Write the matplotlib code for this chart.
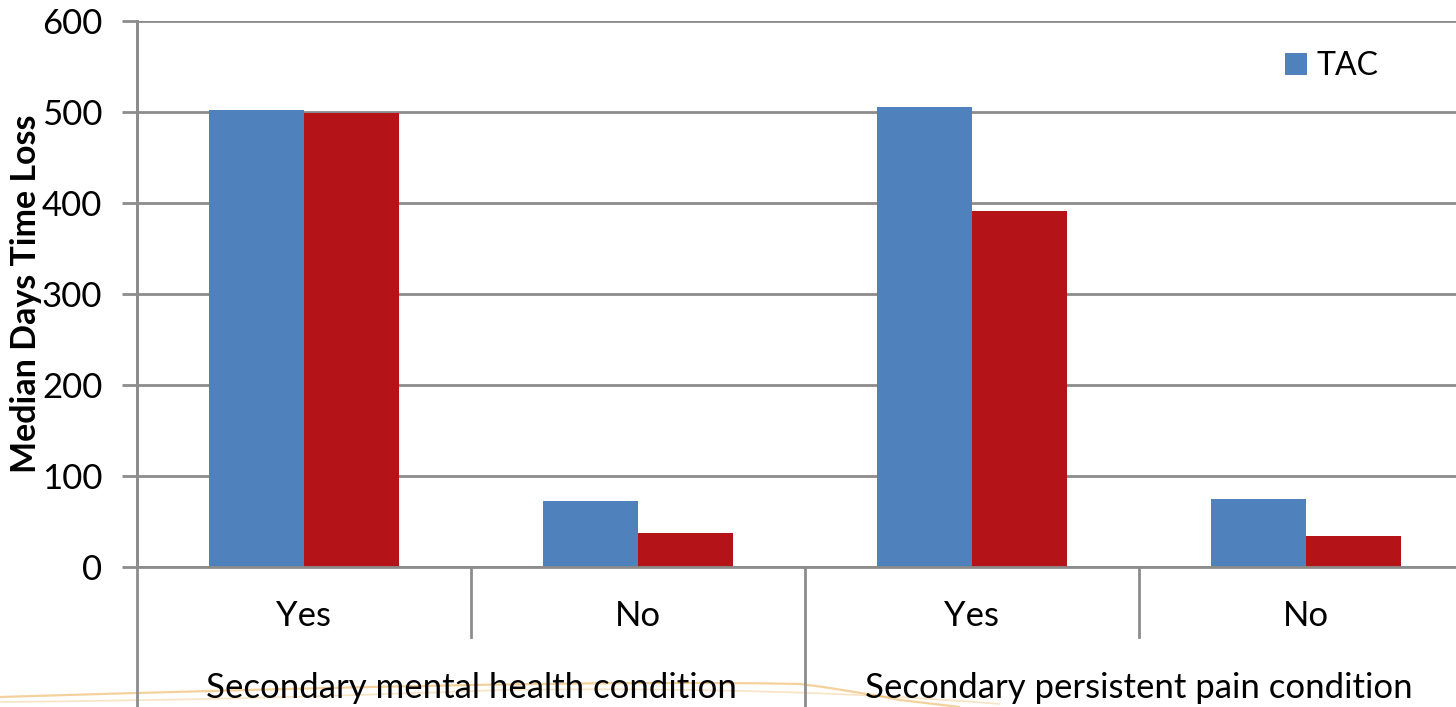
import matplotlib
matplotlib.use("Agg")
import matplotlib.pyplot as plt
from matplotlib.path import Path
from matplotlib.patches import PathPatch, Patch
from matplotlib.transforms import blended_transform_factory

plt.rcParams['font.family'] = ['Lato', 'DejaVu Sans']

# Data
sub_labels = ["Yes", "No", "Yes", "No"]
group_labels = ["Secondary mental health condition", "Secondary persistent pain condition"]
tac_values = [502, 72, 506, 75]
other_values = [499, 37, 391, 34]
series_name = "TAC"
y_ticks = [0, 100, 200, 300, 400, 500, 600]

blue = "#4F81BD"
red = "#B41318"
grid_gray = "#8C8C8C"

W, H = 1456, 707
fig = plt.figure(figsize=(W / 100, H / 100), dpi=100)
fig.patch.set_facecolor("white")

left_px, top_px, bottom_px, cat_px = 137, 21, 567, 334
ax = fig.add_axes([left_px / W, 1 - bottom_px / H,
                   4 * cat_px / W, (bottom_px - top_px) / H])

# Decorative orange swoosh behind the lower labels
def fig_pts(pts):
    return [(x / W, 1 - y / H) for x, y in pts]

swoosh1 = Path(fig_pts([(0, 697), (300, 688), (600, 680), (800, 684),
                        (850, 690), (900, 700), (960, 707)]),
               [Path.MOVETO, Path.CURVE4, Path.CURVE4, Path.CURVE4,
                Path.CURVE3, Path.CURVE3, Path.LINETO])
swoosh2 = Path(fig_pts([(0, 702), (250, 700), (500, 690), (780, 686), (1000, 704)]),
               [Path.MOVETO, Path.CURVE3, Path.CURVE3, Path.CURVE3, Path.CURVE3])
for p, lw, a in [(swoosh1, 1.6, 0.5), (swoosh2, 1.2, 0.3)]:
    fig.add_artist(PathPatch(p, transform=fig.transFigure, facecolor="none",
                             edgecolor="#E8A33A", lw=lw, alpha=a, zorder=0))

x = list(range(len(sub_labels)))
bw = 95 / cat_px
ax.bar([i - bw / 2 for i in x], tac_values, width=bw, color=blue, zorder=3)
ax.bar([i + bw / 2 for i in x], other_values, width=bw, color=red, zorder=3)

ax.set_xlim(-0.5, 3.5)
ax.set_ylim(0, 600)
ax.set_yticks(y_ticks)
ax.set_yticklabels([str(v) for v in y_ticks], fontsize=25)
ax.yaxis.grid(True, color=grid_gray, lw=2, zorder=0)
ax.set_axisbelow(True)
ax.tick_params(axis="y", length=11, width=2, color=grid_gray, pad=14)
ax.set_xticks([])

for s in ["top", "right", "bottom"]:
    ax.spines[s].set_visible(False)
ax.spines["left"].set_color(grid_gray)
ax.spines["left"].set_linewidth(2)
ax.spines["left"].set_bounds(0, 600)

ax.set_ylabel("Median Days Time Loss", fontsize=24.5, fontweight="bold")
ax.yaxis.set_label_coords(-0.071, 0.5)

trans = blended_transform_factory(ax.transData, ax.transAxes)
axis_h = bottom_px - top_px
# Category separators below the axis
short_end = -(637 - bottom_px) / axis_h
long_end = -(H - bottom_px + 2) / axis_h
for xs, end in [(-0.5, long_end), (0.5, short_end), (1.5, long_end),
                (2.5, short_end)]:
    ax.plot([xs, xs], [0, end], transform=trans, color=grid_gray, lw=2,
            clip_on=False, zorder=2)
ax.plot([-0.5, 3.5], [0, 0], transform=trans, color=grid_gray, lw=2,
        clip_on=False, zorder=4)
ax.plot([-0.5, -0.5], [0, 1], transform=trans, color=grid_gray, lw=2,
        clip_on=False, zorder=4)

for i, lab in enumerate(sub_labels):
    ax.text(i, -(616 - bottom_px) / axis_h, lab, transform=trans,
            ha="center", va="center", fontsize=25)
for g, lab in enumerate(group_labels):
    ax.text(2 * g + 0.5, -(688 - bottom_px) / axis_h, lab, transform=trans,
            ha="center", va="center", fontsize=25)

leg = ax.legend(handles=[Patch(facecolor=blue, label=series_name)],
                loc="center left", bbox_to_anchor=(1285 / W, 1 - 66 / H),
                bbox_transform=fig.transFigure, frameon=False, fontsize=23,
                handlelength=0.7, handleheight=0.7, handletextpad=0.3,
                borderpad=0, borderaxespad=0)

fig.savefig("out.png", dpi=100, facecolor="white")
